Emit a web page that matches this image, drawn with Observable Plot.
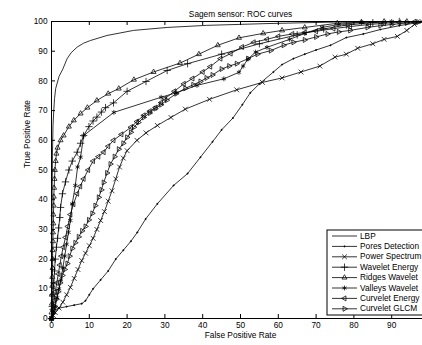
<!DOCTYPE html>
<html>
<head>
<meta charset="utf-8">
<script src="https://cdn.jsdelivr.net/npm/d3@7"></script>
<script src="https://cdn.jsdelivr.net/npm/@observablehq/plot@0.6"></script>
<style>
  html, body { margin: 0; padding: 0; background: #fff; overflow: hidden; }
  #chart svg { display: block; max-width: none !important; }
</style>
</head>
<body>
<div id="chart"></div>
<script>
// ---- Data ----
const titleText = "Sagem sensor: ROC curves";
const xLabel = "False Positive Rate";
const yLabel = "True Positive Rate";
const xTicks = [0, 10, 20, 30, 40, 50, 60, 70, 80, 90, 100];
const yTicks = [0, 10, 20, 30, 40, 50, 60, 70, 80, 90, 100];
const seriesNames = ["LBP", "Pores Detection", "Power Spectrum", "Wavelet Energy",
  "Ridges Wavelet", "Valleys Wavelet", "Curvelet Energy", "Curvelet GLCM"];

const lbp = [[0,0],[0.05,10],[0.1,25],[0.15,40],[0.25,55],[0.4,65],[0.6,70],[0.8,74],[1.1,77.4],[2,81.5],[3,84],[4.1,87.4],[5.2,89.5],[6.8,91.4],[8.5,92.7],[10.3,93.6],[14.7,95.3],[21.7,97],[30.6,98],[41,98.7],[57,99.3],[74.6,99.8],[85,100],[100,100]];

const pores = [[0,0],[0.5,1.5],[1,3],[2,3.5],[4,4],[6,4.5],[8,5],[9,6],[10,8],[11,10],[13,13],[15,16],[17,20],[19,23],[21,26],[22.7,29],[24.9,33.5],[28,38.6],[32.3,44.8],[36,48.8],[39.4,54.3],[42.6,59.5],[45,63.5],[48,67.5],[50.5,72],[52.6,76],[55,79],[58.7,83],[61,85.5],[64,87.5],[67,89],[70,90.4],[73.8,92],[78,94.6],[82.5,95.8],[87,97.3],[92,98.6],[97.6,99.8],[100,100]];

const powerSpectrum = [[0,0],[0.5,1],[1,2],[2,3.5],[3,5.5],[4,8],[5,10.5],[6,13.5],[7,16.5],[8,19.5],[9,22],[10,24.5],[11,27],[12,30],[13,33],[14,36],[15,39.5],[16,43],[17,47],[18,51],[19,54],[20,56.5],[22.6,60],[25,62.5],[28,65],[31.6,67.7],[35.4,70.5],[41.8,73.8],[49,77],[55.8,79.5],[61,81],[66,83],[71,85],[75,88],[78,89],[81,91],[85,92.5],[88,94],[91.5,95],[94,97],[96,99],[98,100],[100,100]];

const waveletEnergy = [[0,0],[0.2,4],[0.4,8],[0.6,12],[0.8,16],[1,20],[1.3,24],[1.6,27],[1.9,30.5],[2.2,34],[2.4,37.4],[2.9,42],[3.7,46],[4.6,50],[5.5,53],[6.8,56],[7.7,59],[8.5,61.6],[9.9,64.6],[11,66.5],[12,67.8],[13.2,69.5],[14.3,71],[16.4,72.6],[20,76.5],[25,79.8],[30.6,83.5],[36,85.8],[45,89],[55,92.5],[65,95.5],[72,97.5],[78,98.8],[85,99.6],[92,100],[100,100]];

const ridgesWavelet = [[0,0],[0,2],[0.1,5],[0.1,8],[0.2,11],[0.2,14],[0.3,17],[0.3,20],[0.3,23],[0.4,26],[0.4,29],[0.5,32],[0.5,35],[0.6,38],[0.6,41],[0.7,44],[0.8,47],[0.9,50],[1.1,53],[1.3,55.5],[1.6,57.5],[2.4,60],[3.2,61.6],[4.6,64.6],[5.9,66.7],[7.7,69],[9.5,71],[12,73.4],[15,75.7],[17.8,77.4],[21.8,80.4],[27,83],[34,86],[39,89],[44,92],[49.6,94.5],[56,96],[61,97],[67,98],[75.6,99.4],[82,99.8],[88,100],[94,100],[100,100]];

const valleysWavelet = [[0,0],[0.5,2],[1,4],[1.5,7],[2,10],[2.5,13],[3,17],[3.5,21],[4,25],[4.5,29],[5,33],[5.5,38.6],[6.3,44.8],[6.9,51],[7.7,54.3],[8.5,61.6],[16.5,69.4],[29,74.5],[33,76],[38.5,78.5],[45.6,80.7],[49.6,82.9],[50.7,85],[52,87.4],[54,89.7],[57,91.3],[63,94],[67,96],[71.6,98],[76,99],[82,99.7],[90,100],[100,100]];

const curveletEnergy = [[0,0],[0.3,3],[0.6,6],[1,9],[1.4,12],[1.8,15],[2.2,18],[2.6,21],[3.1,24],[3.7,27.3],[4.3,31],[5,35],[5.8,38.5],[6.8,42],[7.6,44.5],[8.5,47],[9.7,50],[11,53],[12.4,54.5],[13.8,56],[15,58],[16.4,60],[18.5,62],[21,64.4],[22.6,66.3],[24.4,68.4],[26,69.8],[27.5,71],[29,72.7],[30,74],[32.5,76.5],[35,79],[37.3,80.8],[40,83],[42,84.8],[44.7,87.5],[47.4,89.2],[50.4,91.4],[53.5,93],[57,94],[60,95],[63.7,95.8],[67,96.3],[70,96.7],[74.6,97.6],[79,98.3],[84,99],[88,99.4],[92,99.7],[96,99.9],[100,100]];

const curveletGLCM = [[0,0],[0.4,2],[0.8,4],[1.3,6.5],[1.8,9],[2.3,12],[2.9,14.5],[3.5,16.5],[4.2,18.5],[4.8,21],[5.5,23.6],[6.3,25.5],[7.2,27.5],[8.1,29.5],[9,31],[9.9,33.2],[10.8,35.4],[11.6,38],[12.5,40.8],[13.2,43.3],[13.8,45.8],[14.7,49],[15.6,52],[16.7,54.5],[17.8,57],[19,59],[20,61],[21,62.7],[21.8,64.4],[23,66],[24.4,67.7],[26,69.2],[27.5,70.7],[29,72],[30.5,73.5],[33,75.7],[35.4,77.5],[37.5,78.7],[39.4,79.8],[41,81],[42.6,82],[45,84],[47,85],[49,85.8],[52,87.5],[54.5,89],[58,90.2],[61.4,92],[64,93],[67,93.8],[70,94.8],[73,95.8],[76,96.5],[79,97],[83.6,98],[87,98.6],[90,99],[94,99.5],[97,99.8],[100,100]];

// ---- Marker symbols ----
const triLeft = { draw(ctx, size) { const s = Math.sqrt(size) * 0.6824, t = s / 2, u = s * Math.sqrt(3) / 2;
  ctx.moveTo(-s, 0); ctx.lineTo(t, -u); ctx.lineTo(t, u); ctx.closePath(); } };
const triRight = { draw(ctx, size) { const s = Math.sqrt(size) * 0.6824, t = s / 2, u = s * Math.sqrt(3) / 2;
  ctx.moveTo(s, 0); ctx.lineTo(-t, u); ctx.lineTo(-t, -u); ctx.closePath(); } };
const dotSym = { draw(ctx, size) { const r = Math.sqrt(size / Math.PI); ctx.moveTo(r, 0); ctx.arc(0, 0, r, 0, 2 * Math.PI); } };

const seriesData = [lbp, pores, powerSpectrum, waveletEnergy, ridgesWavelet, valleysWavelet, curveletEnergy, curveletGLCM];
const seriesSymbols = [null, dotSym, d3.symbolTimes, d3.symbolPlus, d3.symbolTriangle2, d3.symbolAsterisk, triLeft, triRight];
const seriesR = [0, 0.6, 2.3, 2.5, 2.4, 2.3, 2.4, 2.4];

const table = seriesData.flatMap((arr, i) => arr.map(([x, y]) => ({series: seriesNames[i], x, y})));

const FONT = "'Liberation Sans', Arial, Helvetica, sans-serif";
const FS = 8.3;
const W = 430, H = 345, ML = 51, MR = 1, MT = 21, MB = 27;
const innerW = W - ML - MR, innerH = H - MT - MB;
const tickLen = 4;

const dotMarks = seriesData.map((arr, i) => seriesSymbols[i] ? Plot.dot(arr, {
  x: d => d[0], y: d => d[1], symbol: seriesSymbols[i], r: seriesR[i],
  stroke: "black", strokeWidth: 0.75, fill: i === 1 ? "black" : "none"
}) : null).filter(Boolean);

const chart = Plot.plot({
  width: W, height: H,
  marginLeft: ML, marginRight: MR, marginTop: MT, marginBottom: MB,
  style: {fontFamily: FONT, fontSize: FS + "px", background: "white", color: "black", overflow: "visible", maxWidth: "none"},
  x: {domain: [0, 100]},
  y: {domain: [0, 100]},
  marks: [
    Plot.frame({stroke: "black", strokeWidth: 1}),
    Plot.tickX(xTicks, {x: d => d, insetTop: innerH - tickLen, stroke: "black"}),
    Plot.tickX(xTicks, {x: d => d, insetBottom: innerH - tickLen, stroke: "black"}),
    Plot.tickY(yTicks, {y: d => d, insetRight: innerW - tickLen, stroke: "black"}),
    Plot.tickY(yTicks, {y: d => d, insetLeft: innerW - tickLen, stroke: "black"}),
    Plot.axisX({ticks: xTicks, tickSize: 0, tickPadding: 4, label: null, fontSize: FS, tickFormat: d => String(d)}),
    Plot.axisY({ticks: yTicks, tickSize: 0, tickPadding: 4, label: null, fontSize: FS, tickFormat: d => String(d)}),
    Plot.line(table, {x: "x", y: "y", z: "series", stroke: "black", strokeWidth: 0.8}),
    ...dotMarks,
    Plot.text([titleText], {text: d => d, frameAnchor: "top", dy: -10, fontSize: FS, fill: "black"}),
    Plot.text([xLabel], {text: d => d, frameAnchor: "bottom", dy: 19, fontSize: FS, fill: "black"}),
    Plot.text([yLabel], {text: d => d, frameAnchor: "left", dx: -24, dy: -2, rotate: -90, fontSize: FS, fill: "black"})
  ]
});

// ---- Legend box (MATLAB style, inside the axes, bottom right) ----
const svg = d3.select(chart);
const lg = svg.append("g").attr("font-family", FONT).attr("font-size", FS).attr("text-anchor", "start");
lg.append("rect").attr("x", 327).attr("y", 230).attr("width", 120).attr("height", 85)
  .attr("fill", "white").attr("stroke", "black").attr("stroke-width", 1);
seriesNames.forEach((name, i) => {
  const yy = 236 + i * 10.4;
  lg.append("line").attr("x1", 332).attr("x2", 357).attr("y1", yy).attr("y2", yy)
    .attr("stroke", "black").attr("stroke-width", 0.8);
  if (seriesSymbols[i]) {
    lg.append("path").attr("transform", `translate(344.5,${yy})`)
      .attr("d", d3.symbol(seriesSymbols[i], Math.PI * seriesR[i] * seriesR[i])())
      .attr("fill", i === 1 ? "black" : "none").attr("stroke", "black").attr("stroke-width", 0.75);
  }
  lg.append("text").attr("x", 360).attr("y", yy).attr("dy", "0.32em").attr("fill", "black")
    .attr("text-anchor", "start").text(name);
});

document.getElementById("chart").appendChild(chart);
</script>
</body>
</html>
